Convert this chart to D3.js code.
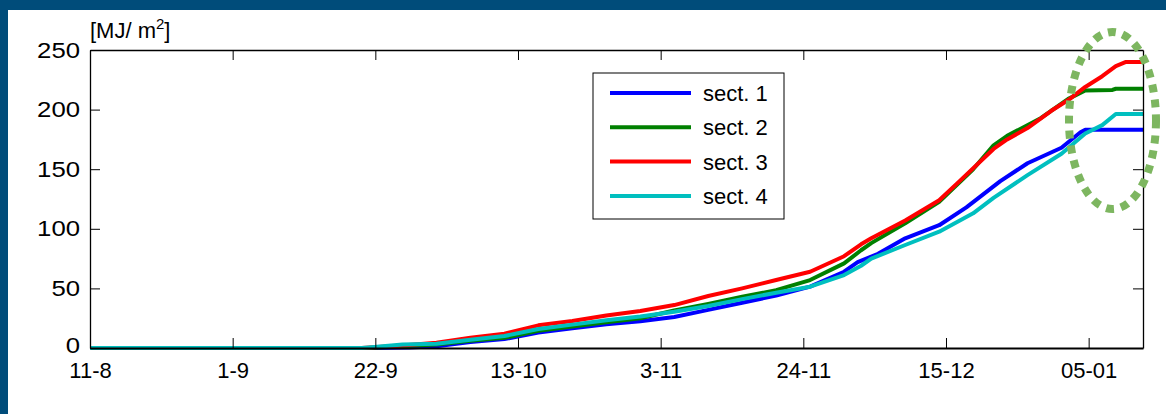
<!DOCTYPE html>
<html>
<head>
<meta charset="utf-8">
<script src="https://cdn.jsdelivr.net/npm/d3@7"></script>
<style>
  html, body { margin: 0; padding: 0; background: #004c7a; }
  svg { display: block; }
  text { font-family: "Liberation Sans", Arial, sans-serif; fill: #000; }
</style>
</head>
<body>
<svg id="chart" width="1166" height="414"></svg>
<script>
// ---- data (day offsets from 11 Aug) ----
const xTickDays   = [0, 21, 42, 63, 84, 105, 126, 147];
const xTickLabels = ["11-8", "1-9", "22-9", "13-10", "3-11", "24-11", "15-12", "05-01"];
const yTicks      = [0, 50, 100, 150, 200, 250];
const seriesNames = ["sect. 1", "sect. 2", "sect. 3", "sect. 4"];
const seriesColors = ["#0000ff", "#008000", "#ff0000", "#00bfbf"];

const sect1Days = [0, 42, 47, 51, 56, 61, 66, 71, 76, 81, 86, 91, 96, 101, 106, 111, 113, 116, 120, 125, 129, 134, 138, 143, 145.8, 146.5, 155];
const sect1Vals = [0, 0, 0.5, 1.5, 5, 7.5, 13, 16.5, 20, 22.5, 26, 32, 38, 44, 51.5, 64, 72, 79, 92, 103, 118, 140, 155, 168, 181, 183, 183];

const sect2Days = [0, 41, 46, 51, 56, 61, 66, 71, 76, 81, 86, 91, 96, 101, 106, 111, 113.5, 115, 120, 125, 128, 130, 133, 135, 140, 144, 146.5, 150.5, 151, 155];
const sect2Vals = [0, 0, 1.5, 3, 6, 8.5, 14.5, 18, 21.5, 25, 31.5, 37, 43, 48.5, 57, 71, 82, 88, 104.6, 122.7, 139, 150, 170, 178, 193, 209, 216, 216.5, 217.5, 217.5];

const sect3Days = [0, 40, 46, 51, 56, 61, 66, 71, 76, 81, 86, 91, 96, 101, 106, 111, 113.5, 115, 120, 125, 128, 133, 135, 138, 141.5, 144, 146.5, 149, 151, 152.5, 155];
const sect3Vals = [0, 0, 2, 4.5, 8.6, 12, 19, 22.6, 27.3, 31, 36, 43.6, 50, 57, 64, 77, 87, 92, 107, 124, 140, 167, 175, 184.5, 199, 208, 219, 228, 236.5, 240, 240];

const sect4Days = [0, 40, 41, 46, 51, 56, 61, 66, 71, 76, 81, 86, 91, 96, 101, 106, 111, 113.5, 115, 120, 125, 130, 133, 138, 143, 146.5, 149, 151, 155];
const sect4Vals = [0, 0, 0.5, 3, 3.6, 7, 10, 16, 19.6, 23.3, 26.5, 30.4, 35.2, 41, 46.4, 51.4, 61.2, 69, 75, 86.4, 97.6, 113, 126, 145, 163, 180, 187, 196.3, 196.3];

const seriesDays = [sect1Days, sect2Days, sect3Days, sect4Days];
const seriesVals = [sect1Vals, sect2Vals, sect3Vals, sect4Vals];

// ---- layout ----
const svg = d3.select("#chart");
const L = 90, R = 1143, T = 50, B = 348;
const x = d3.scaleLinear().domain([0, 155]).range([L, R]);
const y = d3.scaleLinear().domain([0, 250]).range([B, T]);

svg.append("rect").attr("x", 8).attr("y", 10).attr("width", 1158).attr("height", 404).attr("fill", "#fff");

// lines
const line = d3.line().x(d => x(d[0])).y(d => y(d[1]));
seriesDays.forEach((days, i) => {
  const pts = days.map((d, j) => [d, seriesVals[i][j]]);
  svg.append("path").datum(pts)
    .attr("d", line)
    .attr("fill", "none")
    .attr("stroke", seriesColors[i])
    .attr("stroke-width", 4)
    .attr("stroke-linejoin", "round");
});

// axes
const fs = 22;
const gB = svg.append("g").attr("transform", `translate(0,${B})`)
  .call(d3.axisBottom(x).tickValues(xTickDays).tickFormat((d, i) => xTickLabels[i])
    .tickSizeInner(-10).tickSizeOuter(0).tickPadding(14));
const gT = svg.append("g").attr("transform", `translate(0,${T})`)
  .call(d3.axisTop(x).tickValues(xTickDays).tickFormat("").tickSizeInner(-10).tickSizeOuter(0));
const gL = svg.append("g").attr("transform", `translate(${L},0)`)
  .call(d3.axisLeft(y).tickValues(yTicks).tickFormat(d3.format("d"))
    .tickSizeInner(-10).tickSizeOuter(0).tickPadding(8.5));
const gR = svg.append("g").attr("transform", `translate(${R},0)`)
  .call(d3.axisRight(y).tickValues(yTicks).tickFormat("").tickSizeInner(-10).tickSizeOuter(0));

[gB, gT, gL, gR].forEach(g => {
  g.selectAll("path.domain").attr("stroke", "#000").attr("stroke-width", 1.3);
  g.selectAll(".tick line").attr("stroke", "#000").attr("stroke-width", 1);
  g.selectAll("text").attr("font-size", fs).attr("font-family", "Liberation Sans, Arial, sans-serif").attr("fill", "#000");
});
gB.select("path.domain").attr("stroke-width", 2);
gL.selectAll(".tick text").attr("transform", "scale(1.17,1)")
  .attr("y", d => d === 0 ? -2.5 : 0);

// unit label
const ul = svg.append("text").attr("x", 90).attr("y", 38).attr("font-size", 22);
ul.append("tspan").text("[MJ/ m");
ul.append("tspan").attr("font-size", 15).attr("dy", -9).text("2");
ul.append("tspan").attr("dy", 9).text("]");

// legend
const lg = svg.append("g");
lg.append("rect").attr("x", 593).attr("y", 73).attr("width", 191).attr("height", 146)
  .attr("fill", "#fff").attr("stroke", "#000").attr("stroke-width", 1);
seriesNames.forEach((n, i) => {
  const cy = 93 + i * 34.3;
  lg.append("line").attr("x1", 610).attr("x2", 691).attr("y1", cy).attr("y2", cy)
    .attr("stroke", seriesColors[i]).attr("stroke-width", 4);
  lg.append("text").attr("x", 703).attr("y", cy + 8).attr("font-size", fs).text(n);
});

// dotted highlight ellipse
svg.append("ellipse").attr("cx", 1112.5).attr("cy", 120.5).attr("rx", 43.5).attr("ry", 88.5)
  .attr("fill", "none").attr("stroke", "#7db660").attr("stroke-width", 8)
  .attr("stroke-dasharray", "8,7");
</script>
</body>
</html>
